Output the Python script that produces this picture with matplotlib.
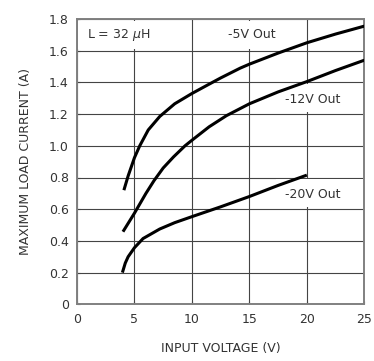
import matplotlib
matplotlib.use("Agg")
import matplotlib.pyplot as plt
from matplotlib.patches import Rectangle

# curves (input voltage V, max load current A)
v_5 = [4.08, 4.45, 5.0, 5.46, 6.2, 7.2, 8.5, 10.0, 11.27, 12.5, 14.2, 15.0, 17.5, 20.0, 22.5, 25.0]
i_5 = [0.72, 0.81, 0.925, 1.0, 1.10, 1.185, 1.265, 1.33, 1.38, 1.428, 1.49, 1.515, 1.585, 1.65, 1.705, 1.755]

v_12 = [4.0, 5.0, 6.0, 6.7, 7.5, 8.4, 9.4, 10.0, 11.5, 13.0, 15.0, 17.5, 20.0, 22.5, 25.0]
i_12 = [0.458, 0.575, 0.70, 0.78, 0.86, 0.93, 1.0, 1.035, 1.12, 1.19, 1.265, 1.34, 1.405, 1.475, 1.54]

v_20 = [3.95, 4.2, 4.45, 5.0, 5.75, 7.2, 8.5, 10.0, 12.5, 15.0, 17.5, 20.0]
i_20 = [0.20, 0.26, 0.30, 0.357, 0.415, 0.475, 0.515, 0.553, 0.615, 0.68, 0.75, 0.815]

xticks = [0, 5, 10, 15, 20, 25]
yticks = [0, 0.2, 0.4, 0.6, 0.8, 1.0, 1.2, 1.4, 1.6, 1.8]
ytick_labels = ["0", "0.2", "0.4", "0.6", "0.8", "1.0", "1.2", "1.4", "1.6", "1.8"]

txt = "#333333"
plt.rcParams["font.family"] = "DejaVu Sans"
plt.rcParams["font.size"] = 9

fig = plt.figure(figsize=(3.74, 3.61), dpi=100)
ax = fig.add_axes([77 / 374, 1 - 304.3 / 361, (364.3 - 77) / 374, (304.3 - 19) / 361])

ax.set_xlim(0, 25)
ax.set_ylim(0, 1.8)
ax.set_xticks(xticks)
ax.set_yticks(yticks)
ax.set_yticklabels(ytick_labels)
ax.grid(True, color="#444444", linewidth=0.8, zorder=0)
ax.set_axisbelow(True)
ax.tick_params(direction="in", length=2, width=0.8, color="#444444",
               labelcolor=txt, pad=6)
for s in ax.spines.values():
    s.set_color("#808080")
    s.set_linewidth(1.4)

# white boxes so the labels sit on clean cells
for x0, y0, w, h in [(0.1, 1.612, 9.75, 0.178), (11.5, 1.612, 8.3, 0.178),
                     (17.3, 1.212, 7.6, 0.176), (17.3, 0.612, 7.6, 0.176)]:
    ax.add_patch(Rectangle((x0, y0), w, h, facecolor="white", edgecolor="none", zorder=1))

lw = 2.2
for v, i in [(v_5, i_5), (v_12, i_12), (v_20, i_20)]:
    ax.plot(v, i, color="black", lw=lw, zorder=3,
            solid_capstyle="butt", solid_joinstyle="round")

ax.text(0.85, 1.70, "L = 32 $\\mu$H", color=txt, va="center", ha="left", zorder=4)
ax.text(13.1, 1.70, "-5V Out", color=txt, va="center", ha="left", zorder=4)
ax.text(18.1, 1.295, "-12V Out", color=txt, va="center", ha="left", zorder=4)
ax.text(18.1, 0.69, "-20V Out", color=txt, va="center", ha="left", zorder=4)

ax.set_xlabel("INPUT VOLTAGE (V)", color=txt, labelpad=12)
ax.set_ylabel("MAXIMUM LOAD CURRENT (A)", color=txt, labelpad=12)

fig.savefig("out.png", dpi=100)
